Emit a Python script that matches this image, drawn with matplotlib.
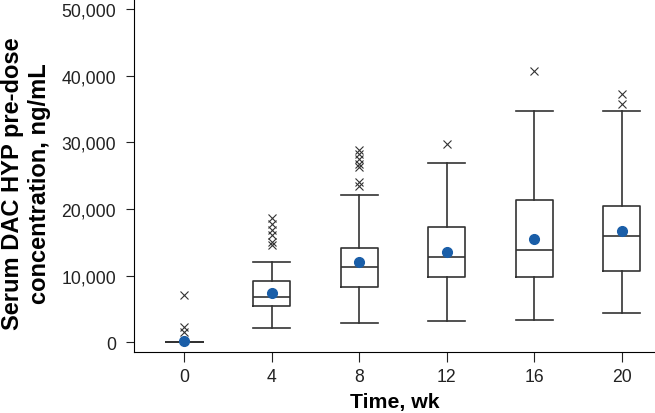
import numpy as np
import matplotlib.pyplot as plt

plt.rcParams['font.family'] = ['Liberation Sans', 'DejaVu Sans']

# Box plot statistics (ng/mL)
weeks = ['0', '4', '8', '12', '16', '20']
q1 = [0, 5400, 8300, 9850, 9850, 10700]
med = [0, 6750, 11250, 12750, 13900, 15900]
q3 = [0, 9150, 14150, 17250, 21350, 20450]
whislo = [0, 2200, 2950, 3200, 3400, 4350]
whishi = [0, 12000, 22050, 26850, 34650, 34750]
means = [150, 7400, 12000, 13600, 15500, 16650]
outliers = [
    [1500, 2250, 7050],
    [14550, 15000, 16100, 16800, 17700, 18650],
    [23500, 24000, 26300, 26700, 27500, 28200, 28800],
    [29750],
    [40750],
    [35750, 37250],
]

stats = []
for i in range(len(weeks)):
    stats.append(dict(q1=q1[i], med=med[i], q3=q3[i], whislo=whislo[i],
                      whishi=whishi[i], fliers=outliers[i], label=weeks[i]))

fig = plt.figure(figsize=(6.55, 4.14), dpi=100)
ax = fig.add_axes([0.205, 0.148, 0.795, 0.852])

lc = '#333333'
ax.bxp(stats, positions=range(len(weeks)), widths=0.42, showfliers=True,
       boxprops=dict(color=lc, linewidth=1.2),
       medianprops=dict(color=lc, linewidth=1.2),
       whiskerprops=dict(color=lc, linewidth=1.2),
       capprops=dict(color=lc, linewidth=1.2),
       capwidths=0.42,
       flierprops=dict(marker='x', markersize=5.5, markeredgecolor=lc,
                       markeredgewidth=0.8, linestyle='none'))
ax.plot(range(len(weeks)), means, 'o', color='#1a5ea8', markersize=7, zorder=5)

ax.set_xlim(-0.57, 5.38)
ax.set_ylim(-1410, 51500)
ax.set_yticks(np.arange(0, 50001, 10000))
ax.set_yticklabels(['{:,}'.format(v) for v in range(0, 50001, 10000)])
ax.set_xticks(range(len(weeks)))
ax.set_xticklabels(weeks)

ax.spines['top'].set_visible(False)
ax.spines['right'].set_visible(False)
ax.tick_params(axis='both', labelsize=12.7, color='#222222', labelcolor='#222222')
ax.tick_params(axis='y', length=6, pad=7)
ax.tick_params(axis='x', length=7, pad=5)
ax.set_xlabel('Time, wk', fontsize=15.3, fontweight='bold')
ax.set_ylabel('Serum DAC HYP pre-dose\nconcentration, ng/mL', fontsize=17,
              fontweight='bold')
ax.xaxis.set_label_coords(0.5, -0.115)
ax.yaxis.set_label_coords(-0.16, 0.48)

fig.savefig('out.png', dpi=100)
